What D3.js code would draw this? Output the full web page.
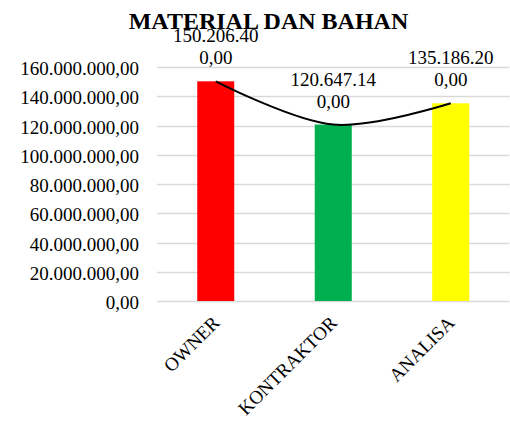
<!DOCTYPE html>
<html><head><meta charset="utf-8">
<script src="https://cdn.jsdelivr.net/npm/d3@7"></script>
<style>body{margin:0;background:#fff}svg{display:block}</style>
</head><body>
<script>
const categories = ["OWNER", "KONTRAKTOR", "ANALISA"];
const values = [150206400, 120647140, 135186200];
const labelLine1 = ["150.206.40", "120.647.14", "135.186.20"];
const labelLine2 = ["0,00", "0,00", "0,00"];
const colors = ["#ff0000", "#00b050", "#ffff00"];
const yTicks = [0, 20000000, 40000000, 60000000, 80000000, 100000000, 120000000, 140000000, 160000000];
const title = "MATERIAL DAN BAHAN";

const W = 510, H = 423;
const FONT = "'Liberation Serif', 'Times New Roman', Times, 'DejaVu Serif', serif";
const m = {left: 157, right: 0.5, top: 67, bottom: 122};
const svg = d3.select("body").append("svg").attr("width", W).attr("height", H)
  .attr("font-family", FONT).style("font-family", FONT);

const x = d3.scaleBand().domain(categories).range([m.left, W - m.right]).paddingInner(0.685).paddingOuter(0.3425);
const y = d3.scaleLinear().domain([0, 160000000]).range([H - m.bottom, m.top]);

const fmt = v => {
  const s = Math.round(v).toString().replace(/\B(?=(\d{3})+(?!\d))/g, ".");
  return s + ",00";
};

// gridlines
svg.append("g").selectAll("line").data(yTicks).join("line")
  .attr("x1", m.left).attr("x2", W - m.right)
  .attr("y1", d => Math.round(y(d)) + 0.5).attr("y2", d => Math.round(y(d)) + 0.5)
  .attr("stroke", "#d9d9d9").attr("stroke-width", 1.5);

// y tick labels
svg.append("g").selectAll("text").data(yTicks).join("text")
  .attr("x", 139).attr("y", d => y(d) + 8)
  .attr("text-anchor", "end").attr("font-size", 19).attr("fill", "#000")
  .text(fmt);

// bars
svg.append("g").selectAll("rect").data(values).join("rect")
  .attr("x", (d, i) => x(categories[i])).attr("width", x.bandwidth())
  .attr("y", d => y(d)).attr("height", d => y(0) - y(d))
  .attr("fill", (d, i) => colors[i]);

// smooth line
const line = d3.line()
  .x((d, i) => x(categories[i]) + x.bandwidth() / 2)
  .y(d => y(d))
  .curve(d3.curveCatmullRom.alpha(0.5));
svg.append("path").datum(values).attr("d", line)
  .attr("fill", "none").attr("stroke", "#000").attr("stroke-width", 2);

// data labels
const lg = svg.append("g");
values.forEach((v, i) => {
  const cx = x(categories[i]) + x.bandwidth() / 2;
  lg.append("text").attr("x", cx).attr("y", y(v) - 39).attr("text-anchor", "middle")
    .attr("font-size", 19).text(labelLine1[i]);
  lg.append("text").attr("x", cx).attr("y", y(v) - 17).attr("text-anchor", "middle")
    .attr("font-size", 19).text(labelLine2[i]);
});

// x labels
svg.append("g").selectAll("text").data(categories).join("text")
  .attr("transform", d => `translate(${x(d) + x.bandwidth() / 2 + 5},${y(0) + 23}) rotate(-45)`)
  .attr("text-anchor", "end").attr("font-size", 19).text(d => d);

// title
svg.append("text").attr("x", 268.5).attr("y", 29).attr("text-anchor", "middle")
  .attr("font-size", 24).attr("font-weight", "bold").text(title);
</script>
</body></html>
